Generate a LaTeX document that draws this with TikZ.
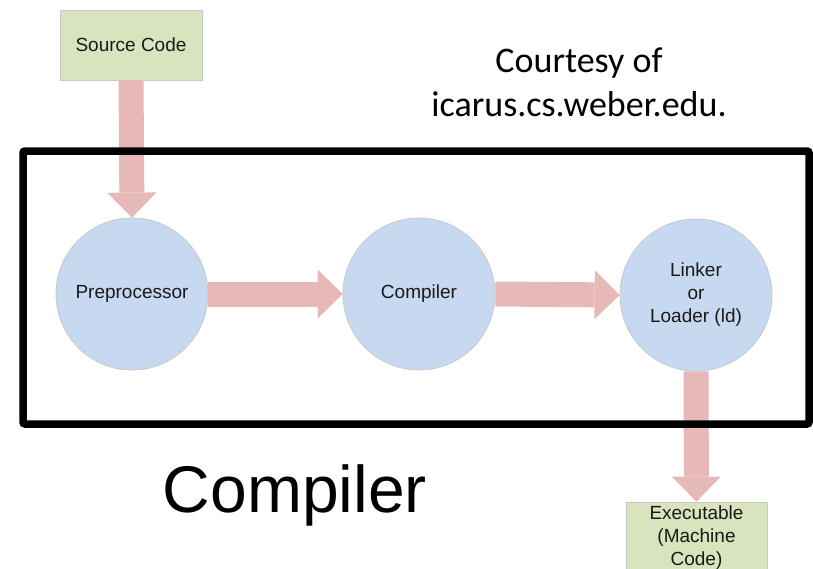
\documentclass[tikz,border=0pt]{standalone}
\usepackage{fontspec}
\setmainfont{Liberation Sans}
\newfontfamily\calfont{Carlito}
\usetikzlibrary{arrows.meta}
\definecolor{boxgreen}{HTML}{D7E4BD}
\definecolor{circblue}{HTML}{C6D9F0}
\definecolor{arrowpink}{HTML}{E6B9B8}
\definecolor{edgegray}{HTML}{C8C8C8}
\tikzset{
  x=1pt, y=1pt,
  label font/.style={font=\fontsize{19}{23}\selectfont, text=black!90},
  iobox/.style={rectangle, fill=boxgreen, draw=edgegray, line width=0.8pt,
    minimum width=142pt, inner sep=0pt, align=center, label font},
  stage/.style={circle, fill=circblue, draw=edgegray, line width=0.8pt,
    minimum size=152pt, inner sep=0pt, align=center, label font},
  fatarrow/.style={draw=arrowpink, line width=25pt,
    -{Triangle[width=49pt,length=25pt,line width=0pt]}},
  frame/.style={draw=black, line width=7.5pt, rounded corners=2pt}
}
\begin{document}
\begin{tikzpicture}
\clip (0,0) rectangle (813,-568);
\fill[white] (0,0) rectangle (813,-568);

% inputs and outputs
\node[iobox, minimum height=70pt] (src) at (131,-45) {Source Code};
\node[iobox, minimum width=141pt, minimum height=72pt] (exe) at (696.5,-538)
  {Executable\\(Machine\\Code)};

% the three stages
\node[stage] (pre)  at (132,-294) {Preprocessor};
\node[stage] (comp) at (419,-294) {Compiler};
\node[stage] (link) at (696,-295) {Linker\\or\\Loader (ld)};

% data flow
\draw[fatarrow] (src.south) -- (pre.north);
\draw[fatarrow] (pre.east) -- (comp.west);
\draw[fatarrow] (comp.east) -- (link.west);
\draw[fatarrow] (link.south) -- (exe.north);

% enclosing frame
\draw[frame] (23,-151) rectangle (809,-424);

% captions
\node[anchor=base, font=\fontsize{66}{70}\selectfont] (title) at (295,-512) {Compiler};
\node[anchor=base, font=\calfont\fontsize{36}{40}\selectfont] (court1) at (579,-72) {Courtesy of};
\node[anchor=base, font=\calfont\fontsize{36}{40}\selectfont] (court2) at (579,-116) {icarus.cs.weber.edu.};
\end{tikzpicture}
\end{document}
